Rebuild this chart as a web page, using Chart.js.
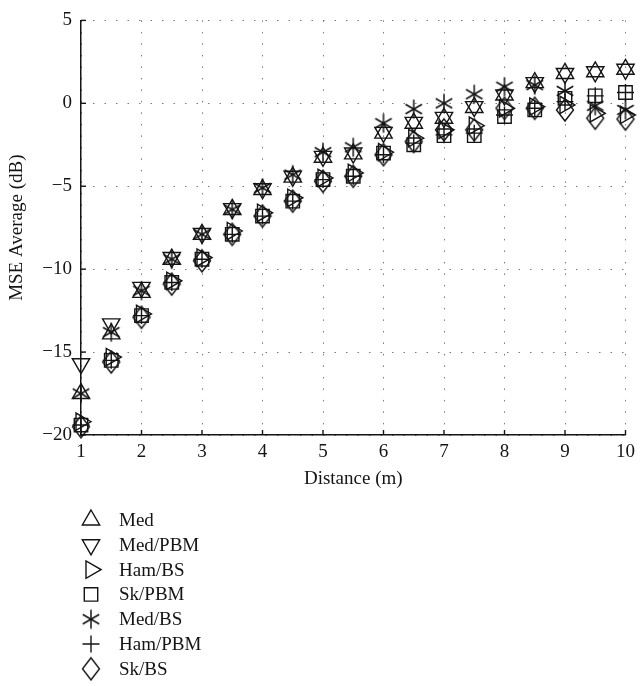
<!DOCTYPE html>
<html>
<head>
<meta charset="utf-8">
<script src="https://cdn.jsdelivr.net/npm/chart.js"></script>
<style>
  body { margin: 0; background: #fff; }
  #wrap { width: 641px; height: 686px; }
</style>
</head>
<body>
<div id="wrap"><canvas id="chart" width="641" height="686"></canvas></div>
<script>
const distances = [1, 1.5, 2, 2.5, 3, 3.5, 4, 4.5, 5, 5.5, 6, 6.5, 7, 7.5, 8, 8.5, 9, 9.5, 10];
const seriesNames = ['Med', 'Med/PBM', 'Ham/BS', 'Sk/PBM', 'Med/BS', 'Ham/PBM', 'Sk/BS'];

const med = [-17.5, -13.9, -11.4, -9.4, -7.9, -6.4, -5.2, -4.45, -3.25, -3.05, -1.8, -1.2, -0.9, -0.25, 0.5, 1.25, 1.8, 1.9, 2.05];
const medPbm = [-15.7, -13.3, -11.1, -9.3, -7.85, -6.35, -5.15, -4.4, -3.2, -3.0, -1.75, -1.15, -0.85, -0.2, 0.5, 1.25, 1.8, 1.9, 2.05];
const hamBs = [-19.2, -15.3, -12.7, -10.7, -9.3, -7.7, -6.6, -5.7, -4.5, -4.2, -2.95, -2.1, -1.6, -1.35, -0.3, -0.2, -0.1, -0.6, -0.7];
const skPbm = [-19.4, -15.5, -12.8, -10.8, -9.4, -7.9, -6.8, -5.9, -4.6, -4.4, -3.0, -2.5, -1.95, -1.95, -0.8, -0.4, 0.3, 0.45, 0.65];
const medBs = [-17.5, -13.8, -11.3, -9.4, -7.9, -6.4, -5.1, -4.3, -2.95, -2.65, -1.2, -0.35, 0.0, 0.55, 1.0, 1.1, 0.75, -0.15, -0.4];
const hamPbm = [-19.4, -15.5, -12.8, -10.8, -9.4, -7.9, -6.8, -5.9, -4.6, -4.4, -3.1, -2.4, -1.9, -1.8, -0.7, -0.3, 0.1, 0.45, 0.65];
const skBs = [-19.5, -15.6, -12.9, -10.9, -9.5, -7.9, -6.8, -5.9, -4.7, -4.4, -3.1, -2.3, -1.6, -1.6, -0.3, -0.3, -0.4, -0.9, -0.95];

const yTicks = [-20, -15, -10, -5, 0, 5];
const xTicks = [1, 2, 3, 4, 5, 6, 7, 8, 9, 10];

const FONT = '"Liberation Serif", "DejaVu Serif", serif';
const INK = '#141414';

// six-spoke asterisk marker
function makeAsterisk() {
  const c = document.createElement('canvas');
  c.width = 22; c.height = 22;
  const g = c.getContext('2d');
  g.strokeStyle = INK;
  g.lineWidth = 1.5;
  for (let a = 0; a < 3; a++) {
    const ang = Math.PI / 2 + a * Math.PI / 3;
    g.beginPath();
    g.moveTo(11 - Math.cos(ang) * 9.5, 11 - Math.sin(ang) * 9.5);
    g.lineTo(11 + Math.cos(ang) * 9.5, 11 + Math.sin(ang) * 9.5);
    g.stroke();
  }
  return c;
}

// diamond, a bit taller than wide
function makeDiamond() {
  const c = document.createElement('canvas');
  c.width = 20; c.height = 26;
  const g = c.getContext('2d');
  g.strokeStyle = INK;
  g.lineWidth = 1.4;
  g.beginPath();
  g.moveTo(10, 2); g.lineTo(18.5, 13); g.lineTo(10, 24); g.lineTo(1.5, 13);
  g.closePath();
  g.stroke();
  return c;
}
const asterisk = makeAsterisk();
const diamond = makeDiamond();

const styles = [
  { pointStyle: 'triangle', rotation: 0, radius: 10 },
  { pointStyle: 'triangle', rotation: 180, radius: 10 },
  { pointStyle: 'triangle', rotation: 90, radius: 10 },
  { pointStyle: 'rect', rotation: 0, radius: 9.5 },
  { pointStyle: asterisk, rotation: 0, radius: 10 },
  { pointStyle: 'cross', rotation: 0, radius: 8.5 },
  { pointStyle: diamond, rotation: 0, radius: 10.5 },
];
const allSeries = [med, medPbm, hamBs, skPbm, medBs, hamPbm, skBs];

const datasets = allSeries.map((vals, i) => ({
  label: seriesNames[i],
  data: vals.map((v, j) => ({ x: distances[j], y: v })),
  showLine: false,
  clip: false,
  pointStyle: styles[i].pointStyle,
  pointRotation: styles[i].rotation,
  pointRadius: styles[i].radius,
  pointHoverRadius: styles[i].radius,
  pointBorderWidth: 1.4,
  pointBorderColor: INK,
  pointBackgroundColor: 'rgba(0,0,0,0)',
}));

// inward tick marks and the stacked legend below the axis
const extras = {
  id: 'extras',
  afterDraw(chart) {
    const ctx = chart.ctx;
    const xs = chart.scales.x, ys = chart.scales.y;
    const area = chart.chartArea;
    ctx.save();
    ctx.strokeStyle = INK;
    ctx.lineWidth = 1.4;
    yTicks.forEach(v => {
      const py = ys.getPixelForValue(v);
      ctx.beginPath(); ctx.moveTo(area.left, py); ctx.lineTo(area.left + 5, py); ctx.stroke();
    });
    xTicks.forEach(v => {
      const px = xs.getPixelForValue(v);
      ctx.beginPath(); ctx.moveTo(px, area.bottom); ctx.lineTo(px, area.bottom - 5); ctx.stroke();
    });
    ctx.font = '19px ' + FONT;
    ctx.textBaseline = 'middle';
    seriesNames.forEach((name, i) => {
      const y = 520 + i * 24.8;
      ctx.fillStyle = 'rgba(0,0,0,0)';
      ctx.strokeStyle = INK;
      Chart.helpers.drawPoint(ctx, {
        pointStyle: styles[i].pointStyle,
        rotation: styles[i].rotation,
        radius: styles[i].radius,
        borderWidth: 1.4,
      }, 91, y);
      ctx.fillStyle = INK;
      ctx.fillText(name, 119, y + 1);
    });
    ctx.restore();
  }
};

new Chart(document.getElementById('chart'), {
  type: 'scatter',
  data: { datasets },
  options: {
    responsive: false,
    animation: false,
    layout: { padding: { left: 0, top: 10, right: 15, bottom: 192 } },
    plugins: { legend: { display: false }, tooltip: { enabled: false } },
    scales: {
      x: {
        type: 'linear',
        min: 1, max: 10,
        afterFit: s => { s.height = 59; },
        afterBuildTicks: s => { s.ticks = xTicks.map(v => ({ value: v })); },
        ticks: { color: INK, padding: 6, font: { family: FONT, size: 19 } },
        grid: { color: '#7a7a7a', lineWidth: 1, drawTicks: false },
        border: { color: INK, width: 1.5, dash: [1.5, 10] },
        title: { display: true, text: 'Distance (m)', color: INK, padding: { top: 0, bottom: 4 }, font: { family: FONT, size: 19 } },
      },
      y: {
        min: -20, max: 5,
        afterFit: s => { s.width = 81; },
        afterBuildTicks: s => { s.ticks = yTicks.map(v => ({ value: v })); },
        ticks: {
          color: INK, padding: 9, font: { family: FONT, size: 19 },
          callback: v => String(v).replace('-', '\u2212'),
        },
        grid: { color: '#7a7a7a', lineWidth: 1, drawTicks: false },
        border: { color: INK, width: 1.5, dash: [1.5, 10] },
        title: { display: true, text: 'MSE Average (dB)', color: INK, padding: { top: 6, bottom: 0 }, font: { family: FONT, size: 19 } },
      },
    },
  },
  plugins: [extras],
});
</script>
</body>
</html>
